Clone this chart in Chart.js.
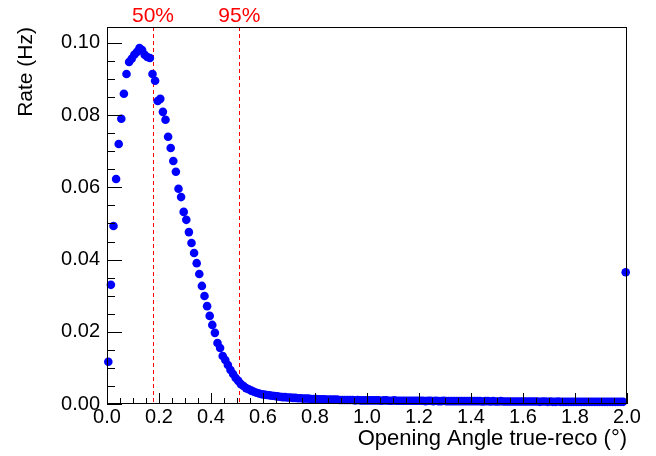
<!DOCTYPE html>
<html>
<head>
<meta charset="utf-8">
<script src="https://cdn.jsdelivr.net/npm/chart.js@4.4.0/dist/chart.umd.min.js"></script>
<style>
html,body{margin:0;padding:0;background:#fff}
</style>
</head>
<body>
<canvas id="chart" width="656" height="456"></canvas>
<script>
// Histogram binning (x axis) : 200 bins de 0.01 entre 0 et 2
const binLow = 0;
const binWidth = 0.01;

// Rate par bin (Hz)
const rates = [
  0.0117, 0.0330, 0.0493, 0.0623, 0.0720, 0.0790, 0.0859, 0.0914, 0.0947, 0.0956,
  0.0967, 0.0975, 0.0986, 0.0980, 0.0967, 0.0961, 0.0958, 0.0914, 0.0895, 0.0839,
  0.0845, 0.0809, 0.0787, 0.0740, 0.0709, 0.0673, 0.0643, 0.0596, 0.0573, 0.0532,
  0.0510, 0.0476, 0.0446, 0.0418, 0.0390, 0.0360, 0.0327, 0.0299, 0.0271, 0.0244,
  0.0219, 0.0197, 0.0169, 0.0155, 0.0133, 0.0122, 0.0108, 0.0094, 0.0083, 0.0072,
  0.0064, 0.0055, 0.0050, 0.0044, 0.0041, 0.0037, 0.0034, 0.0031, 0.0029, 0.0027,
  0.0026, 0.0025, 0.0024, 0.0023, 0.0022, 0.0021, 0.0020, 0.0019, 0.0019, 0.0018,
  0.0018, 0.0017, 0.0017, 0.0016, 0.0016, 0.0015, 0.0015, 0.0015, 0.0014, 0.0014,
  0.0014, 0.0013, 0.0013, 0.0013, 0.0012, 0.0012, 0.0012, 0.0012, 0.0012, 0.0011,
  0.0011, 0.0011, 0.0011, 0.0011, 0.0011, 0.0010, 0.0011, 0.0010, 0.0010, 0.0010,
  0.0010, 0.0010, 0.0010, 0.0010, 0.0010, 0.0009, 0.0010, 0.0010, 0.0009, 0.0009,
  0.0010, 0.0009, 0.0009, 0.0009, 0.0009, 0.0009, 0.0009, 0.0009, 0.0009, 0.0009,
  0.0009, 0.0009, 0.0008, 0.0009, 0.0009, 0.0008, 0.0009, 0.0008, 0.0008, 0.0009,
  0.0008, 0.0008, 0.0008, 0.0008, 0.0008, 0.0008, 0.0008, 0.0008, 0.0008, 0.0008,
  0.0008, 0.0008, 0.0008, 0.0008, 0.0007, 0.0008, 0.0008, 0.0007, 0.0008, 0.0007,
  0.0007, 0.0008, 0.0007, 0.0007, 0.0007, 0.0007, 0.0007, 0.0007, 0.0007, 0.0007,
  0.0007, 0.0007, 0.0007, 0.0007, 0.0007, 0.0007, 0.0006, 0.0007, 0.0007, 0.0006,
  0.0007, 0.0006, 0.0006, 0.0007, 0.0006, 0.0006, 0.0006, 0.0006, 0.0006, 0.0006,
  0.0006, 0.0006, 0.0006, 0.0006, 0.0006, 0.0006, 0.0006, 0.0006, 0.0006, 0.0006,
  0.0006, 0.0006, 0.0006, 0.0006, 0.0006, 0.0006, 0.0006, 0.0006, 0.0006, 0.0365
];

// Lignes verticales (quantiles)
const quantileX = [0.177, 0.509];
const quantileLabels = ["50%", "95%"];

// Axes
const xMin = 0, xMax = 2.0, xStep = 0.2, xMinor = 0.05;
const yMin = 0, yMax = 0.1044, yStep = 0.02, yMinor = 0.005;

const FONT = "'Liberation Sans', Arial, Helvetica, sans-serif";

const points = rates.map((r, i) => ({x: binLow + (i + 0.5) * binWidth, y: r}));

// Cadre + graduations vers l'interieur (style ROOT)
const framePlugin = {
  id: "frame",
  beforeDatasetsDraw(chart) {
    const ctx = chart.ctx, a = chart.chartArea;
    const xs = chart.scales.x;
    ctx.save();
    ctx.strokeStyle = "#ff0000";
    ctx.lineWidth = 1;
    ctx.setLineDash([4, 3]);
    quantileX.forEach(q => {
      const px = Math.round(xs.getPixelForValue(q)) + 0.5;
      ctx.beginPath();
      ctx.moveTo(px, a.top);
      ctx.lineTo(px, a.bottom);
      ctx.stroke();
    });
    ctx.setLineDash([]);
    ctx.fillStyle = "#ff0000";
    ctx.font = "21px " + FONT;
    ctx.textAlign = "center";
    ctx.textBaseline = "middle";
    quantileX.forEach((q, i) => {
      ctx.fillText(quantileLabels[i], xs.getPixelForValue(q), 16);
    });
    ctx.restore();
  },
  afterDatasetsDraw(chart) {
    const ctx = chart.ctx, a = chart.chartArea;
    const xs = chart.scales.x, ys = chart.scales.y;
    ctx.save();
    ctx.strokeStyle = "#000";
    ctx.lineWidth = 1;
    ctx.strokeRect(a.left + 0.5, a.top + 0.5, a.right - a.left - 1, a.bottom - a.top - 1);
    ctx.beginPath();
    // x ticks
    for (let v = xMin; v <= xMax + 1e-9; v += xMinor) {
      const major = Math.abs(v / xStep - Math.round(v / xStep)) < 1e-6;
      const px = Math.round(xs.getPixelForValue(v)) + 0.5;
      ctx.moveTo(px, a.bottom);
      ctx.lineTo(px, a.bottom - (major ? 11 : 6));
    }
    // y ticks
    for (let v = yMin; v <= yMax + 1e-9; v += yMinor) {
      const major = Math.abs(v / yStep - Math.round(v / yStep)) < 1e-6;
      const py = Math.round(ys.getPixelForValue(v)) + 0.5;
      ctx.moveTo(a.left, py);
      ctx.lineTo(a.left + (major ? 15 : 8), py);
    }
    ctx.stroke();
    ctx.restore();
  }
};

new Chart(document.getElementById("chart"), {
  type: "scatter",
  data: {
    datasets: [{
      data: points,
      backgroundColor: "#0000ff",
      borderWidth: 0,
      pointRadius: 4.3,
      pointHoverRadius: 4.3,
      clip: false
    }]
  },
  options: {
    responsive: false,
    devicePixelRatio: 1,
    animation: false,
    events: [],
    layout: {padding: {left: 0, right: 29, top: 27, bottom: 0}},
    plugins: {legend: {display: false}, tooltip: {enabled: false}},
    scales: {
      x: {
        type: "linear",
        min: xMin, max: xMax,
        grid: {display: false, drawTicks: false},
        border: {display: false},
        ticks: {
          stepSize: xStep,
          includeBounds: false,
          padding: 1,
          color: "#000",
          font: {family: FONT, size: 20},
          maxRotation: 0,
          autoSkip: false,
          callback: v => v.toFixed(1)
        },
        title: {
          display: true,
          text: "Opening Angle true-reco (°)",
          align: "end",
          color: "#000",
          font: {family: FONT, size: 22},
          padding: {top: 0, bottom: 4}
        },
        afterFit(s) { s.height = 52; }
      },
      y: {
        type: "linear",
        min: yMin, max: yMax,
        grid: {display: false, drawTicks: false},
        border: {display: false},
        ticks: {
          stepSize: yStep,
          includeBounds: false,
          padding: 7,
          color: "#000",
          font: {family: FONT, size: 20},
          autoSkip: false,
          callback: v => v.toFixed(2)
        },
        title: {
          display: true,
          text: "Rate (Hz)",
          align: "end",
          color: "#000",
          font: {family: FONT, size: 21},
          padding: {top: 14, bottom: 0}
        },
        afterFit(s) { s.width = 107; }
      }
    }
  },
  plugins: [framePlugin]
});
</script>
</body>
</html>
